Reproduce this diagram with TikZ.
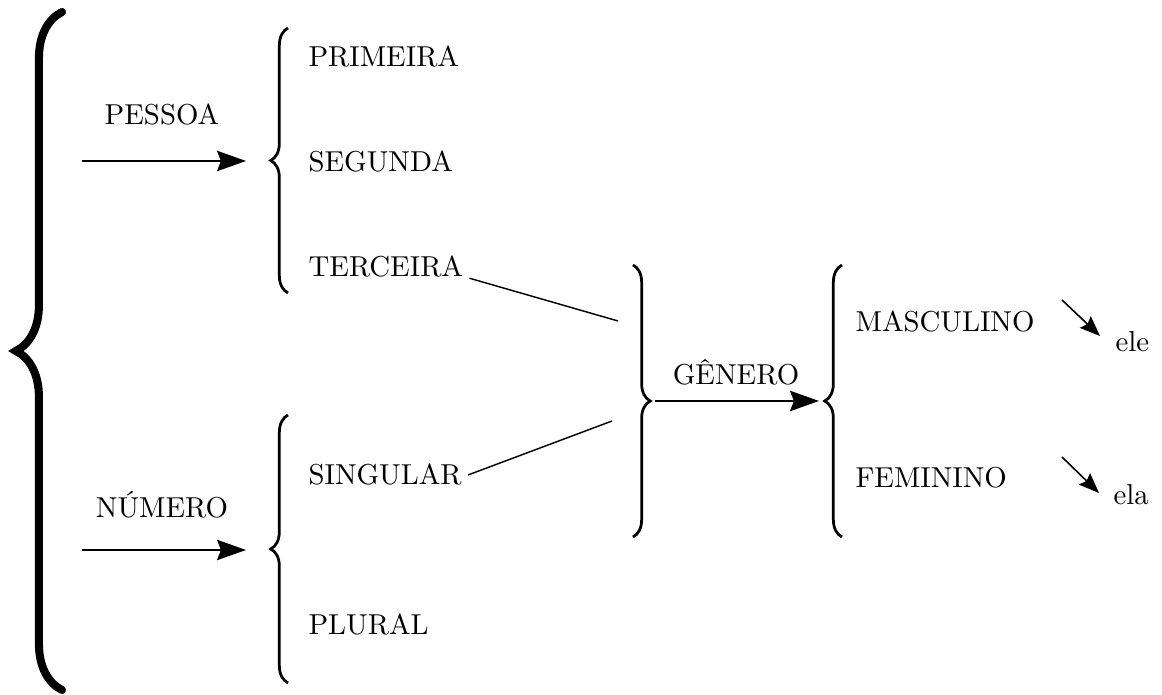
\documentclass[tikz,border=0pt]{standalone}
\usetikzlibrary{decorations.pathreplacing,arrows.meta}
\begin{document}
\begin{tikzpicture}[x=0.347pt,y=-0.347pt,
  lbl/.style={inner sep=0pt, font=\normalsize},
  item/.style={lbl, anchor=west},
  bigarrow/.style={line width=0.95pt, -{Stealth[length=10pt,width=7pt,inset=1.3pt]}},
  smallarrow/.style={line width=0.55pt, -{Stealth[length=7pt,width=5.5pt,inset=1pt]}},
  link/.style={line width=0.5pt},
  curly/.style={decorate, decoration={brace, amplitude=6pt}, line width=0.95pt},
  bigcurly/.style={decorate, decoration={brace, amplitude=16pt}, line width=2.8pt, line cap=round}]

\useasboundingbox (0,0) rectangle (1162,695);

% braces
\draw[bigcurly] (62,690) -- (62,12);
\draw[curly] (288,293) -- (288,28);
\draw[curly] (288,683) -- (288,415);
\draw[curly] (633,265) -- (633,537);
\draw[curly] (842,537) -- (842,265);

% pessoa / numero
\node[lbl, anchor=base] (pessoa) at (162,125) {PESSOA};
\coordinate (pa) at (82,161);
\coordinate (pb) at (246,161);
\draw[bigarrow] (pa) -- (pb);

\node[lbl, anchor=base] (numero) at (162,518) {NÚMERO};
\coordinate (na) at (82,550);
\coordinate (nb) at (246,550);
\draw[bigarrow] (na) -- (nb);

% items
\node[item] (prim) at (308,57) {PRIMEIRA};
\node[item] (seg) at (308,162) {SEGUNDA};
\node[item] (terc) at (308,267) {TERCEIRA};
\node[item] (sing) at (308,475) {SINGULAR};
\node[item] (plur) at (308,625) {PLURAL};

% links to genero
\coordinate (tg) at (618,321);
\coordinate (sg) at (612,421);
\draw[link] ([xshift=2pt]terc.south east) -- (tg);
\draw[link] ([xshift=2pt]sing.east) -- (sg);

% genero
\node[lbl, anchor=base] (genero) at (736,385) {GÊNERO};
\coordinate (ga) at (655,401);
\coordinate (gb) at (819,401);
\draw[bigarrow] (ga) -- (gb);

\node[item] (masc) at (855,322) {MASCULINO};
\node[item] (fem) at (855,478) {FEMININO};

\node[lbl, anchor=base west] (ele) at (1115,352) {ele};
\node[lbl, anchor=base west] (ela) at (1113,505) {ela};

\coordinate (ea) at (1062,300);
\coordinate (eb) at (1100,336);
\draw[smallarrow] (ea) -- (eb);
\coordinate (fa) at (1062,457);
\coordinate (fb) at (1099,493);
\draw[smallarrow] (fa) -- (fb);
\end{tikzpicture}
\end{document}
